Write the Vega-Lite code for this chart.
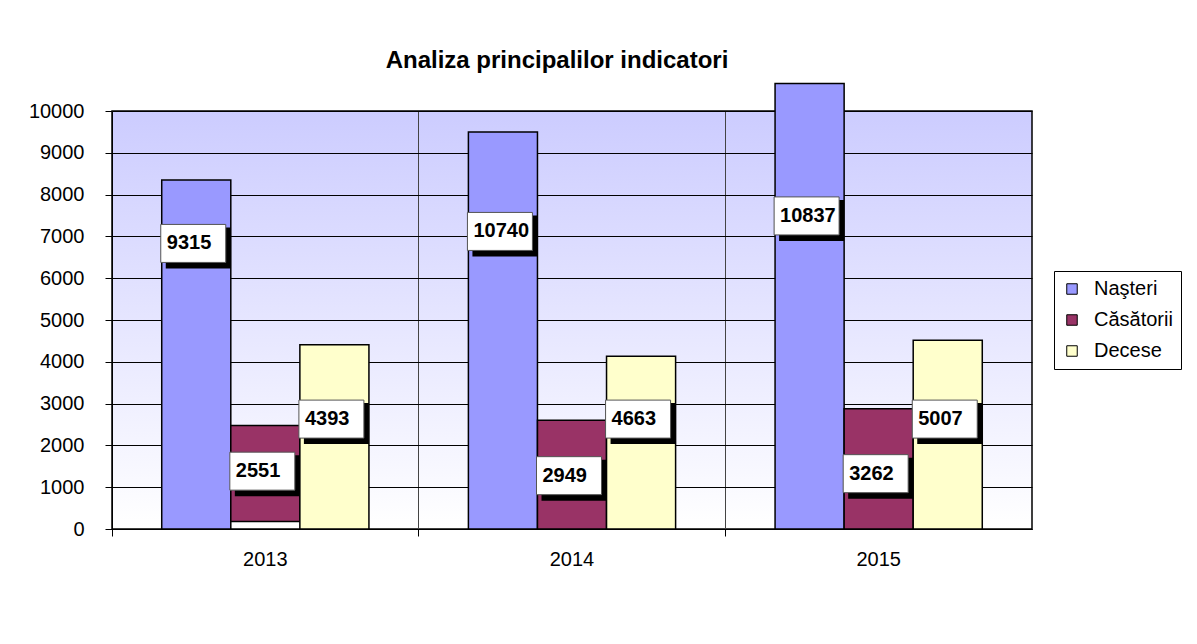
{
  "$schema": "https://vega.github.io/schema/vega-lite/v6.json",
  "width": 920,
  "height": 418,
  "autosize": "none",
  "padding": {"left": 112, "top": 111, "right": 165, "bottom": 115},
  "background": "white",
  "config": {
    "font": "Liberation Sans",
    "view": {
      "stroke": "black",
      "strokeWidth": 1.5,
      "fill": {"gradient": "linear", "x1": 0, "y1": 0, "x2": 0, "y2": 1,
        "stops": [{"offset": 0, "color": "#CCCCFF"}, {"offset": 1, "color": "#FFFFFF"}]}
    }
  },
  "title": {
    "text": "Analiza principalilor indicatori",
    "font": "Liberation Sans",
    "fontSize": 24,
    "fontWeight": "bold",
    "color": "black",
    "frame": "group",
    "baseline": "alphabetic",
    "offset": 44,
    "dy": 53,
    "dx": -15
  },
  "datasets": {
    "bars": [
      {"year": "2013", "series": "Naşteri", "value": 8348, "base": 0, "label": "9315", "labelAt": 6832},
      {"year": "2013", "series": "Căsătorii", "value": 2474, "base": 182, "label": "2551", "labelAt": 1384},
      {"year": "2013", "series": "Decese", "value": 4406, "base": 0, "label": "4393", "labelAt": 2629},
      {"year": "2014", "series": "Naşteri", "value": 9497, "base": 0, "label": "10740", "labelAt": 7119},
      {"year": "2014", "series": "Căsătorii", "value": 2601, "base": 0, "label": "2949", "labelAt": 1276},
      {"year": "2014", "series": "Decese", "value": 4133, "base": 0, "label": "4663", "labelAt": 2629},
      {"year": "2015", "series": "Naşteri", "value": 10656, "base": 0, "label": "10837", "labelAt": 7490},
      {"year": "2015", "series": "Căsătorii", "value": 2874, "base": 0, "label": "3262", "labelAt": 1324},
      {"year": "2015", "series": "Decese", "value": 4516, "base": 0, "label": "5007", "labelAt": 2629}
    ]
  },
  "data": {"name": "bars"},
  "encoding": {
    "x": {
      "field": "year",
      "type": "nominal",
      "title": null,
      "scale": {"paddingInner": 0, "paddingOuter": 0},
      "axis": {
        "bandPosition": 0,
        "grid": true,
        "gridColor": "#444444",
        "gridOpacity": 1,
        "labelAngle": 0,
        "labelFontSize": 20,
        "labelColor": "black",
        "labelPadding": 13,
        "tickSize": 7,
        "tickColor": "black",
        "domainColor": "black"
      }
    },
    "xOffset": {
      "field": "series",
      "type": "nominal",
      "scale": {"domain": ["Naşteri", "Căsătorii", "Decese"], "paddingInner": 0, "paddingOuter": 0.72}
    }
  },
  "layer": [
    {
      "mark": {"type": "bar", "stroke": "black", "strokeWidth": 1.5},
      "encoding": {
        "y": {
          "field": "value",
          "type": "quantitative",
          "title": null,
          "scale": {"domain": [0, 10000], "nice": false},
          "axis": {
            "values": [0, 1000, 2000, 3000, 4000, 5000, 6000, 7000, 8000, 9000, 10000],
            "format": "d",
            "grid": true,
            "gridColor": "black",
            "gridOpacity": 1,
            "labelFontSize": 20,
            "labelColor": "black",
            "labelPadding": 21,
            "tickSize": 7,
            "tickColor": "black",
            "domainColor": "black"
          }
        },
        "y2": {"field": "base"},
        "color": {
          "field": "series",
          "type": "nominal",
          "scale": {"domain": ["Naşteri", "Căsătorii", "Decese"], "range": ["#9999FF", "#993366", "#FFFFCC"]},
          "legend": {
            "title": null,
            "orient": "none",
            "legendX": 942,
            "legendY": 160,
            "strokeColor": "black",
            "fillColor": "white",
            "padding": 8,
            "labelFontSize": 20,
            "labelColor": "black",
            "labelOffset": 12,
            "symbolType": "square",
            "symbolSize": 110,
            "symbolStrokeColor": "black",
            "symbolStrokeWidth": 1,
            "rowPadding": 11
          }
        }
      }
    },
    {
      "mark": {"type": "point", "shape": "M-30.5,-16H34.5V25H-30.5Z", "size": 4, "filled": true, "color": "black", "opacity": 1},
      "encoding": {"y": {"field": "labelAt", "type": "quantitative", "title": null}}
    },
    {
      "mark": {"type": "point", "shape": "M-35.5,-19H29.5V19H-35.5Z", "size": 4, "filled": true, "fill": "white", "stroke": "#555555", "strokeWidth": 1, "opacity": 1},
      "encoding": {"y": {"field": "labelAt", "type": "quantitative", "title": null}}
    },
    {
      "mark": {"type": "text", "align": "left", "baseline": "middle", "dx": -29.5, "fontSize": 20, "fontWeight": "bold", "color": "black"},
      "encoding": {
        "y": {"field": "labelAt", "type": "quantitative", "title": null},
        "text": {"field": "label"}
      }
    }
  ]
}
